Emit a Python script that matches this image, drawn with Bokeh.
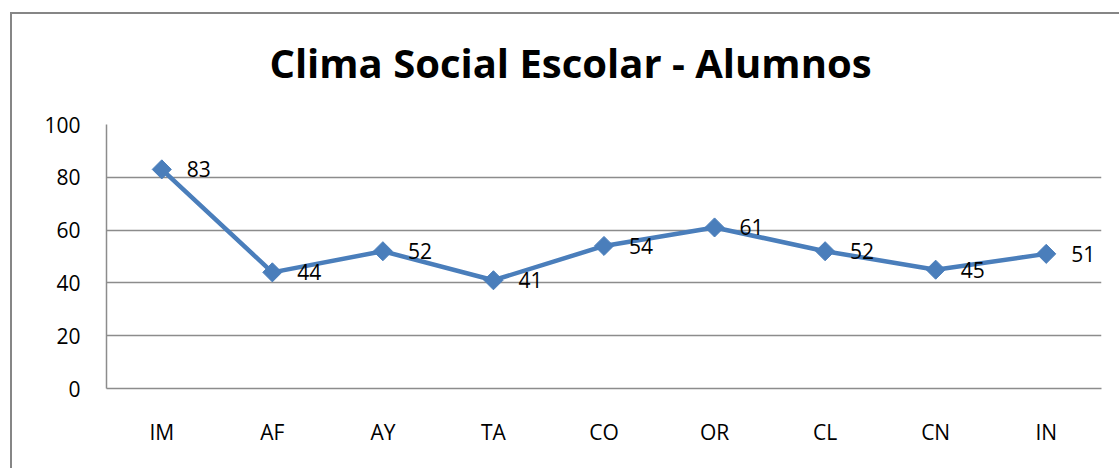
import math
from bokeh.plotting import figure
from bokeh.layouts import column
from bokeh.models import ColumnDataSource, Range1d, FactorRange, LabelSet, Div, SingleIntervalTicker
from bokeh.core.properties import value
from bokeh.embed import file_html
from bokeh.resources import INLINE

categories = ["IM", "AF", "AY", "TA", "CO", "OR", "CL", "CN", "IN"]
scores = [83, 44, 52, 41, 54, 61, 52, 45, 51]
title_text = "Clima Social Escolar - Alumnos"

FONT = "Open Sans"
BLUE = "#4A7EBB"
GRID = "#8C8C8C"

src = ColumnDataSource(dict(cat=categories, val=scores, lab=[str(v) for v in scores]))

title = Div(text=title_text, width=1096, height=70,
            styles={"font-family": "'Open Sans'", "font-size": "40px", "font-weight": "bold",
                    "color": "black", "text-align": "center", "line-height": "48px",
                    "padding-top": "20px", "padding-left": "11px",
                    "background": "white"})

p = figure(width=1107, height=374, x_range=FactorRange(*categories, range_padding=0),
           y_range=Range1d(0, 100), output_backend="svg", toolbar_location=None,
           min_border_left=94, min_border_right=18, min_border_top=30, min_border_bottom=80)
p.outline_line_color = None
p.background_fill_color = "white"
p.border_fill_color = "white"

p.line("cat", "val", source=src, line_color=BLUE, line_width=4.5)
p.scatter("cat", "val", source=src, marker="square", angle=math.pi / 4, size=13.5,
          fill_color=BLUE, line_color=BLUE)
labels = LabelSet(x="cat", y="val", text="lab", source=src, x_offset=25, y_offset=0,
                  text_baseline="middle", text_align="left", text_font=value(FONT),
                  text_font_size="21px", text_color="black")
p.add_layout(labels)

p.yaxis.ticker = SingleIntervalTicker(interval=20)
p.ygrid.grid_line_color = GRID
p.ygrid.grid_line_width = 1.5
p.xgrid.grid_line_color = None
for ax in (p.xaxis, p.yaxis):
    ax.major_tick_line_color = None
    ax.minor_tick_line_color = None
    ax.axis_line_color = GRID
    ax.axis_line_width = 1.5
    ax.major_label_text_font = FONT
    ax.major_label_text_font_size = "21px"
    ax.major_label_text_color = "black"
p.yaxis.major_label_standoff = 20
p.xaxis.major_label_standoff = 23

layout = column(title, p, spacing=0,
                styles={"border-left": "2px solid #868686", "border-top": "2px solid #868686",
                        "margin-left": "10px", "margin-top": "12px", "background": "white"})

open("out.html", "w").write(file_html(layout, INLINE))
